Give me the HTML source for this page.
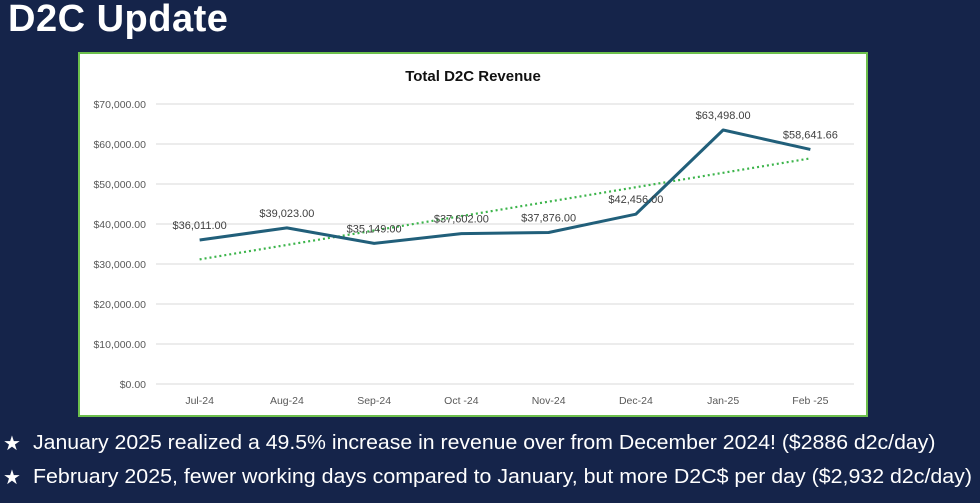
<!DOCTYPE html>
<html><head><meta charset="utf-8">
<style>
body{margin:0;width:980px;height:503px;background:#15244a;overflow:hidden;font-family:"Liberation Sans",sans-serif;position:relative}
#title{position:absolute;left:8px;top:-2px;color:#fff;font-weight:bold;font-size:38px;letter-spacing:0.5px}
#box{position:absolute;left:78px;top:52px;width:786px;height:361px;background:#fff;border:2px solid #6cbf4c}
.star{position:absolute;left:3px;color:#fff;font-size:20px}
.note{position:absolute;left:33px;color:#fff;font-size:20px;white-space:nowrap;transform-origin:0 0}
</style></head><body>
<div id="title">D2C Update</div>
<div id="box">
<svg id="chart" width="786" height="361"></svg>
</div>
<div class="star" style="top:431px">★</div>
<div class="note" id="n1" style="top:432px">January 2025 realized a 49.5% increase in revenue over from December 2024! ($2886 d2c/day)</div>
<div class="star" style="top:465px">★</div>
<div class="note" id="n2" style="top:466px">February 2025, fewer working days compared to January, but more D2C$ per day ($2,932 d2c/day)</div>
<script>
const categories=["Jul-24","Aug-24","Sep-24","Oct -24","Nov-24","Dec-24","Jan-25","Feb -25"];
const revenue=[36011,39023,35149,37602,37876,42456,63498,58641.66];
const valueLabels=["$36,011.00","$39,023.00","$35,149.00","$37,602.00","$37,876.00","$42,456.00","$63,498.00","$58,641.66"];
const yTicks=[0,10000,20000,30000,40000,50000,60000,70000];
const yTickLabels=["$0.00","$10,000.00","$20,000.00","$30,000.00","$40,000.00","$50,000.00","$60,000.00","$70,000.00"];
[["n1",902],["n2",939]].forEach(([id,w])=>{const e=document.getElementById(id);e.style.transform='scaleX('+(w/e.offsetWidth)+')';});
const svg=document.getElementById('chart');
const NS='http://www.w3.org/2000/svg';
const L=76,R=774,T=50,B=330,ymax=70000;
const xs=i=>L+(R-L)/categories.length*(i+0.5);
const ys=v=>B-(v/ymax)*(B-T);
function mk(tag,attrs,text){const e=document.createElementNS(NS,tag);for(const k in attrs)e.setAttribute(k,attrs[k]);if(text!=null)e.textContent=text;svg.appendChild(e);return e;}
let t=mk('text',{x:393,y:27,'text-anchor':'middle','font-size':'15','font-weight':'bold',fill:'#111'},'Total D2C Revenue');


yTicks.forEach((v,i)=>{
 const g=mk('line',{x1:L,x2:R,y1:ys(v),y2:ys(v),stroke:'#d9d9d9','stroke-width':1});
 
 
 const l=mk('text',{x:L-10,y:ys(v)+4,'text-anchor':'end','font-size':'10.5',fill:'#595959'},yTickLabels[i]);
 
 
});
categories.forEach((c,i)=>{
 const l=mk('text',{x:xs(i),y:B+20,'text-anchor':'middle','font-size':'10.5',fill:'#595959'},c);
 
 
});
const n=revenue.length;let mx=(n-1)/2,my=revenue.reduce((a,b)=>a+b,0)/n,sxy=0,sxx=0;
revenue.forEach((v,i)=>{sxy+=(i-mx)*(v-my);sxx+=(i-mx)*(i-mx);});
const slope=sxy/sxx,ic=my-slope*mx;
const tr=mk('line',{x1:xs(0),y1:ys(ic),x2:xs(n-1),y2:ys(ic+slope*(n-1)),stroke:'#3cb44b','stroke-width':2.2,'stroke-dasharray':'2 3'});


const p=mk('polyline',{points:revenue.map((v,i)=>xs(i)+','+ys(v)).join(' '),fill:'none',stroke:'#215f7a','stroke-width':3,'stroke-linejoin':'round'});


revenue.forEach((v,i)=>{
 const l=mk('text',{x:xs(i),y:ys(v)-11,'text-anchor':'middle','font-size':'11',fill:'#404040'},valueLabels[i]);
 
 
});
</script>
</body></html>
